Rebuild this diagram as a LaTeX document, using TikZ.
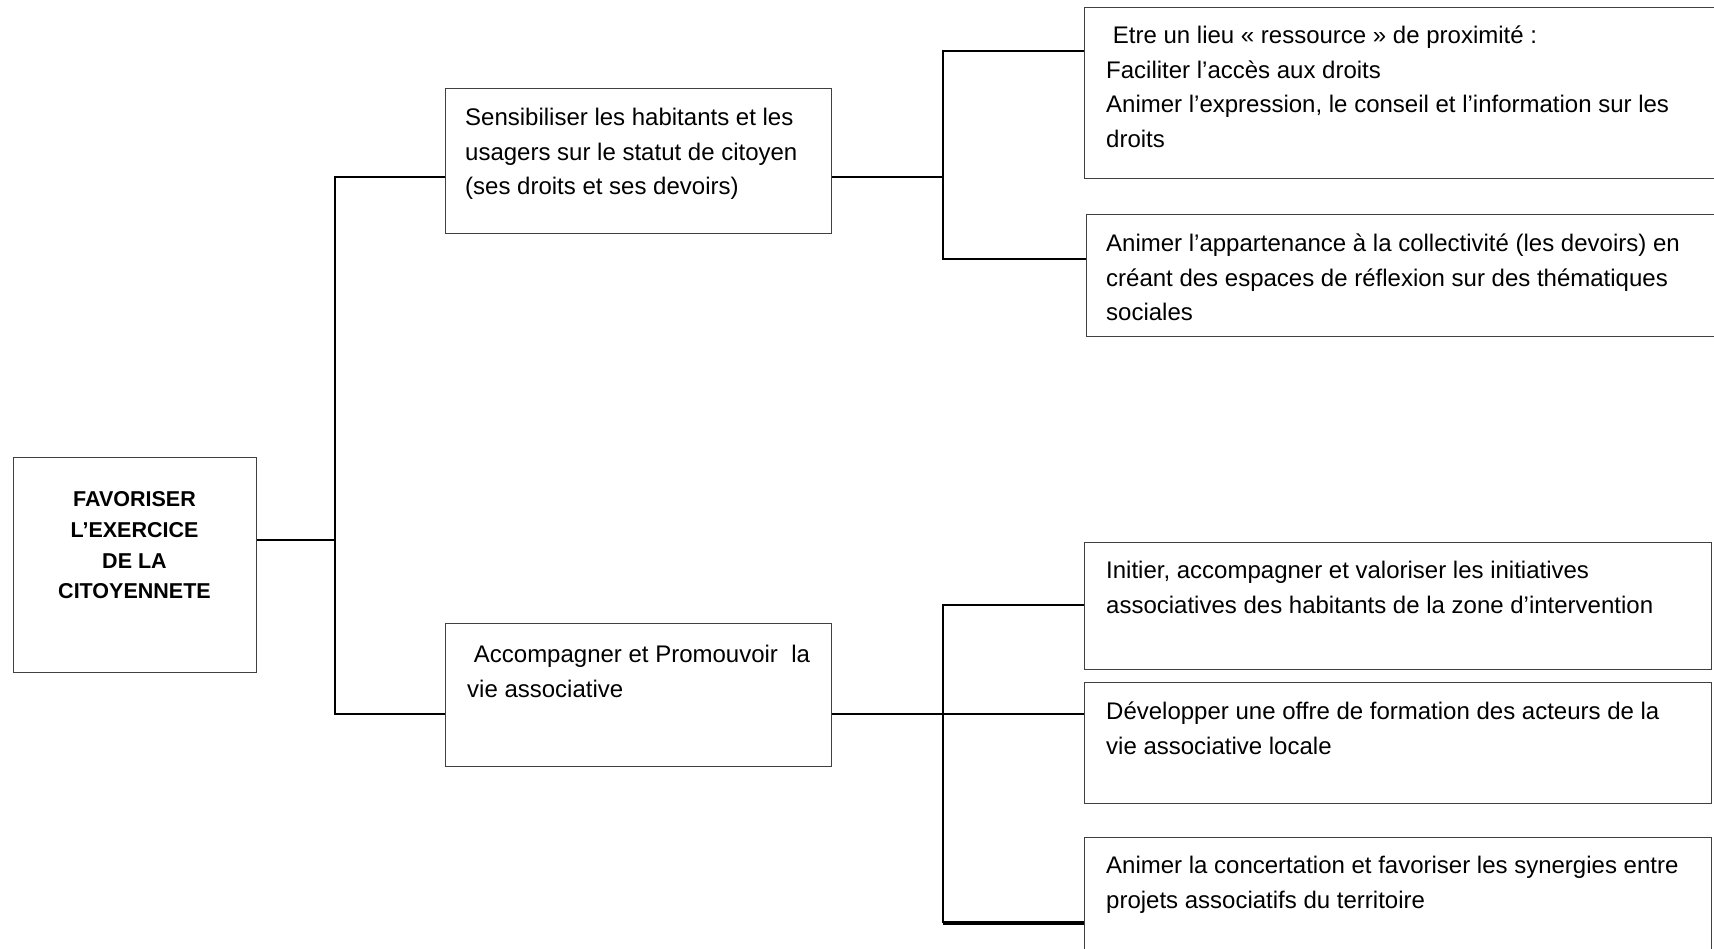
\documentclass[tikz,border=0pt]{standalone}
\usepackage{fontspec}
\setmainfont{Liberation Sans}
\begin{document}
\begin{tikzpicture}[x=1pt,y=-1pt,
  box/.style={draw=black!75, line width=1.1pt, anchor=north west, inner sep=0pt},
  conn/.style={draw=black, line width=2.2pt},
  thickconn/.style={draw=black, line width=3.2pt},
  txt/.style={anchor=north west, inner sep=0pt, align=left, font=\fontsize{24}{34.5}\selectfont},
  maintxt/.style={anchor=north, inner sep=0pt, align=center, font=\fontsize{21.5}{30.6}\selectfont\bfseries},
  ]
\useasboundingbox (0,0) rectangle (1714,949);
\clip (0,0) rectangle (1714,949);

% boxes
\node[box, minimum width=243, minimum height=215] (main) at (13,457) {};
\node[box, minimum width=386, minimum height=145] (s1) at (445,88) {};
\node[box, minimum width=386, minimum height=143] (s2) at (445,623) {};
\node[box, minimum width=650, minimum height=171] (r1) at (1084,7) {};
\node[box, minimum width=650, minimum height=122] (r2) at (1086,214) {};
\node[box, minimum width=627, minimum height=127] (r3) at (1084,542) {};
\node[box, minimum width=627, minimum height=121] (r4) at (1084,682) {};
\node[box, minimum width=627, minimum height=140] (r5) at (1084,837) {};

% texts
\node[maintxt] (t0) at (134.5,485.3) {\strut FAVORISER\\L’EXERCICE\\DE LA\\CITOYENNETE};
\node[txt] (ts1) at (465,101.4) {\strut Sensibiliser les habitants et les\\usagers sur le statut de citoyen\\(ses droits et ses devoirs)};
\node[txt] (ts2) at (467,638.5) {\strut\hspace*{6.7pt}Accompagner et Promouvoir\ \ la\\vie associative};
\node[txt] (tr1) at (1106,19.3) {\strut\hspace*{6.7pt}Etre un lieu « ressource » de proximité :\\Faciliter l’accès aux droits\\Animer l’expression, le conseil et l’information sur les\\droits};
\node[txt] (tr2) at (1106,227.2) {\strut Animer l’appartenance à la collectivité (les devoirs) en\\créant des espaces de réflexion sur des thématiques\\sociales};
\node[txt] (tr3) at (1106,554.2) {\strut Initier, accompagner et valoriser les initiatives\\associatives des habitants de la zone d’intervention};
\node[txt] (tr4) at (1106,695.2) {\strut Développer une offre de formation des acteurs de la\\vie associative locale};
\node[txt] (tr5) at (1106,849.2) {\strut Animer la concertation et favoriser les synergies entre\\projets associatifs du territoire};

% junction points
\coordinate (jL) at (335,540);
\coordinate (b1) at (335,177);
\coordinate (b2) at (335,714);
\coordinate (c1) at (943,177);
\coordinate (c1a) at (943,51);
\coordinate (c1b) at (943,259);
\coordinate (c2) at (943,714);
\coordinate (c2a) at (943,605);
\coordinate (c2b) at (943,923);

% connectors
\draw[conn] (main.east |- jL) -- (jL);
\draw[conn] (s1.west |- b1) -- (b1) -- (b2) -- (s2.west |- b2);
\draw[conn] (s1.east |- c1) -- (c1);
\draw[conn] (r1.west |- c1a) -- (c1a) -- (c1b) -- (r2.west |- c1b);
\draw[conn] (s2.east |- c2) -- (r4.west |- c2);
\draw[conn] (r3.west |- c2a) -- (c2a) -- (c2b);
\draw[thickconn] (c2b) -- (r5.west |- c2b);
\end{tikzpicture}
\end{document}
